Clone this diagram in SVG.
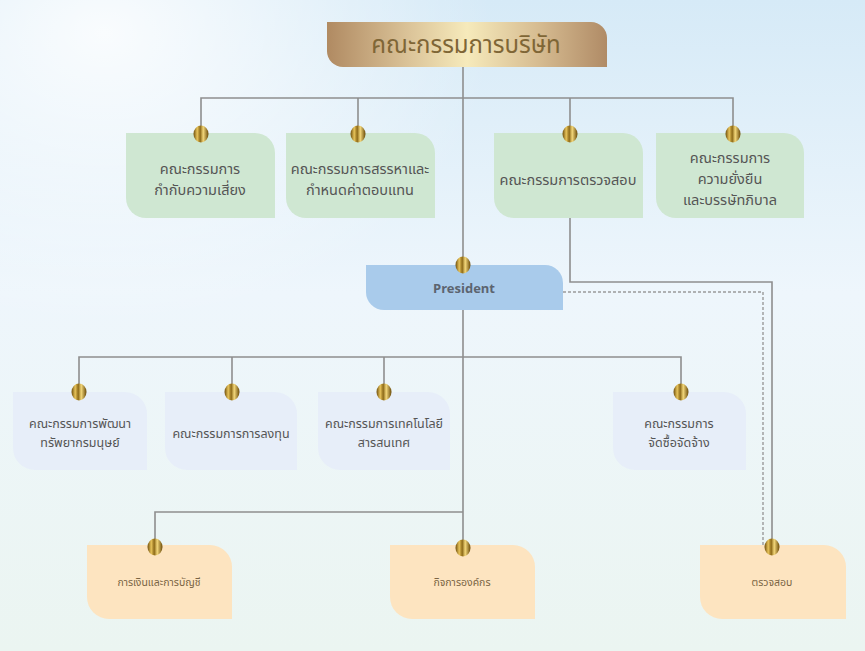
<svg xmlns="http://www.w3.org/2000/svg" xmlns:xlink="http://www.w3.org/1999/xlink" width="865" height="651" viewBox="0 0 865 651">
<defs>
<linearGradient id="bg" x1="0" y1="0" x2="0" y2="1">
<stop offset="0" stop-color="#d6eaf7"/>
<stop offset="0.45" stop-color="#eef6fc"/>
<stop offset="1" stop-color="#ebf5f1"/>
</linearGradient>
<radialGradient id="haze" cx="0.12" cy="0.05" r="0.45">
<stop offset="0" stop-color="#ffffff" stop-opacity="0.85"/>
<stop offset="1" stop-color="#ffffff" stop-opacity="0"/>
</radialGradient>
<linearGradient id="gold" x1="0" y1="0" x2="1" y2="0">
<stop offset="0" stop-color="#b08a62"/>
<stop offset="0.3" stop-color="#dcc59a"/>
<stop offset="0.5" stop-color="#f6eabb"/>
<stop offset="0.75" stop-color="#d7bd92"/>
<stop offset="1" stop-color="#b08b66"/>
</linearGradient>
<linearGradient id="pinG" x1="0" y1="0" x2="1" y2="0">
<stop offset="0" stop-color="#6e4e0c"/>
<stop offset="0.25" stop-color="#e7c35a"/>
<stop offset="0.45" stop-color="#8d6a18"/>
<stop offset="0.65" stop-color="#f3d77a"/>
<stop offset="1" stop-color="#6a4a08"/>
</linearGradient>
<symbol id="pin" overflow="visible">
<ellipse cx="0" cy="0" rx="7.5" ry="8.5" fill="url(#pinG)"/>
</symbol>
<style>
.conn{fill:none;stroke:#8e8e8e;stroke-width:1.6}
.dash{fill:none;stroke:#9a9a9a;stroke-width:1.4;stroke-dasharray:3 2}
.green{fill:#cfe7d2}
.lav{fill:#e7eef9}
.org{fill:#fde4c0}
.pres{fill:#a9cbeb}
text{font-family:"Noto Sans Thai","Noto Sans","DejaVu Sans",sans-serif;text-anchor:middle;fill:#555555}
.t13{font-size:14.5px}
.t11{font-size:12.5px}
.t10{font-size:10.5px;fill:#7a6444}
.ttl{font-size:24px;fill:#7f6636}
.pt{font-size:13px;font-weight:bold;fill:#5c6470}
</style>
</defs>
<rect width="865" height="651" fill="url(#bg)"/>
<rect width="865" height="651" fill="url(#haze)"/>

<g id="connectors">
<path class="conn" d="M463,67 V548"/>
<path class="conn" d="M201,134 V98 H733 V134"/>
<path class="conn" d="M358,98 V134"/>
<path class="conn" d="M570,98 V134"/>
<path class="conn" d="M79,392 V357 H681 V392"/>
<path class="conn" d="M232,357 V392"/>
<path class="conn" d="M384,357 V392"/>
<path class="conn" d="M155,547 V512 H463"/>
<path class="conn" d="M570,218 V282 H772 V547"/>
<path class="dash" d="M563,292 H763 V547"/>
</g>

<g id="board">
<path d="M327,22 H591 A16,16 0 0 1 607,38 V67 H343 A16,16 0 0 1 327,51 Z" fill="url(#gold)"/>
<text class="ttl" x="466" y="53">คณะกรรมการบริษัท</text>
</g>

<g id="risk">
<path class="green" d="M126,133 H255 A20,20 0 0 1 275,153 V218 H146 A20,20 0 0 1 126,198 Z"/>
<text class="t13" x="200" y="174">คณะกรรมการ</text>
<text class="t13" x="200" y="195">กำกับความเสี่ยง</text>
<use xlink:href="#pin" x="201" y="134"/>
</g>

<g id="nomination">
<path class="green" d="M286,133 H415 A20,20 0 0 1 435,153 V218 H306 A20,20 0 0 1 286,198 Z"/>
<text class="t13" x="360" y="174">คณะกรรมการสรรหาและ</text>
<text class="t13" x="360" y="195">กำหนดค่าตอบแทน</text>
<use xlink:href="#pin" x="358" y="134"/>
</g>

<g id="audit-committee">
<path class="green" d="M494,133 H623 A20,20 0 0 1 643,153 V218 H514 A20,20 0 0 1 494,198 Z"/>
<text class="t13" x="568" y="185">คณะกรรมการตรวจสอบ</text>
<use xlink:href="#pin" x="570" y="134"/>
</g>

<g id="sustainability">
<path class="green" d="M656,133 H784 A20,20 0 0 1 804,153 V218 H676 A20,20 0 0 1 656,198 Z"/>
<text class="t13" x="730" y="163">คณะกรรมการ</text>
<text class="t13" x="730" y="184">ความยั่งยืน</text>
<text class="t13" x="730" y="205">และบรรษัทภิบาล</text>
<use xlink:href="#pin" x="733" y="134"/>
</g>

<g id="president">
<path class="pres" d="M366,265 H545 A18,18 0 0 1 563,283 V310 H384 A18,18 0 0 1 366,292 Z"/>
<text class="pt" x="464" y="293">President</text>
<use xlink:href="#pin" x="463" y="265"/>
</g>

<g id="hr">
<path class="lav" d="M13,392 H125 A22,22 0 0 1 147,414 V470 H35 A22,22 0 0 1 13,448 Z"/>
<text class="t11" x="80" y="428">คณะกรรมการพัฒนา</text>
<text class="t11" x="80" y="447">ทรัพยากรมนุษย์</text>
<use xlink:href="#pin" x="79" y="392"/>
</g>

<g id="investment">
<path class="lav" d="M165,392 H275 A22,22 0 0 1 297,414 V470 H187 A22,22 0 0 1 165,448 Z"/>
<text class="t11" x="231" y="438">คณะกรรมการการลงทุน</text>
<use xlink:href="#pin" x="232" y="392"/>
</g>

<g id="it">
<path class="lav" d="M318,392 H428 A22,22 0 0 1 450,414 V470 H340 A22,22 0 0 1 318,448 Z"/>
<text class="t11" x="384" y="428">คณะกรรมการเทคโนโลยี</text>
<text class="t11" x="384" y="447">สารสนเทศ</text>
<use xlink:href="#pin" x="384" y="392"/>
</g>

<g id="procurement">
<path class="lav" d="M613,392 H724 A22,22 0 0 1 746,414 V470 H635 A22,22 0 0 1 613,448 Z"/>
<text class="t11" x="679" y="428">คณะกรรมการ</text>
<text class="t11" x="679" y="447">จัดซื้อจัดจ้าง</text>
<use xlink:href="#pin" x="681" y="392"/>
</g>

<g id="finance">
<path class="org" d="M87,545 H210 A22,22 0 0 1 232,567 V619 H109 A22,22 0 0 1 87,597 Z"/>
<text class="t10" x="159" y="586">การเงินและการบัญชี</text>
<use xlink:href="#pin" x="155" y="547"/>
</g>

<g id="corporate">
<path class="org" d="M390,545 H513 A22,22 0 0 1 535,567 V619 H412 A22,22 0 0 1 390,597 Z"/>
<text class="t10" x="462" y="586">กิจการองค์กร</text>
<use xlink:href="#pin" x="463" y="548"/>
</g>

<g id="internal-audit">
<path class="org" d="M700,545 H824 A22,22 0 0 1 846,567 V619 H722 A22,22 0 0 1 700,597 Z"/>
<text class="t10" x="772" y="586">ตรวจสอบ</text>
<use xlink:href="#pin" x="772" y="547"/>
</g>
</svg>
